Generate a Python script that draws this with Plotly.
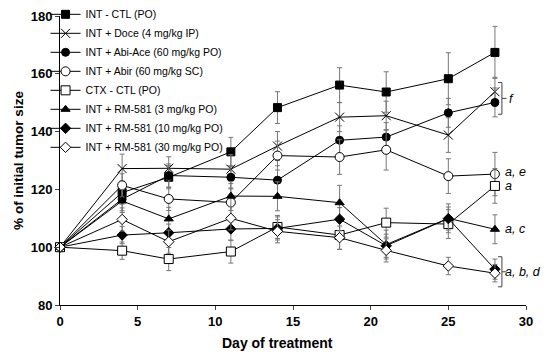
import plotly.graph_objects as go

days = [0, 4, 7, 11, 14, 18, 21, 25, 28]

names = [
    "INT - CTL (PO)",
    "INT + Doce (4 mg/kg IP)",
    "INT + Abi-Ace (60 mg/kg PO)",
    "INT + Abir (60 mg/kg SC)",
    "CTX - CTL (PO)",
    "INT + RM-581 (3 mg/kg PO)",
    "INT + RM-581 (10 mg/kg PO)",
    "INT + RM-581 (30 mg/kg PO)",
]

int_ctl = [100, 118.9, 124.2, 133.0, 148.3, 156.1, 153.7, 158.3, 167.4]
doce = [100, 127.2, 127.3, 127.0, 135.0, 145.0, 145.5, 138.8, 153.8]
abi_ace = [100, 116.6, 124.8, 124.2, 123.2, 137.0, 138.1, 146.5, 150.1]
abir = [100, 121.4, 116.7, 115.5, 131.7, 131.2, 133.7, 124.6, 125.3]
ctx_ctl = [100, 98.8, 95.9, 98.5, 107.0, 104.2, 108.5, 108.0, 121.2]
rm3 = [100, 116.0, 109.8, 117.7, 117.6, 115.4, 100.9, 110.0, 106.2]
rm10 = [100, 104.2, 105.0, 106.3, 106.5, 109.7, 100.5, 109.9, 92.4]
rm30 = [100, 109.6, 101.9, 110.0, 105.5, 103.3, 98.9, 93.5, 91.0]

err_int_ctl = [0, 4, 4, 5, 5.5, 6, 7, 9, 9]
err_doce = [0, 5, 4, 5, 5, 5, 5, 6, 5]
err_abi_ace = [0, 4, 4, 4, 5, 5, 5, 5, 5]
err_abir = [0, 4, 4, 5, 5, 6, 7, 6, 7.5]
err_ctx_ctl = [0, 3, 4, 4, 4, 5, 5, 5, 6]
err_rm3 = [0, 4, 4, 5, 5, 6, 5, 5, 5]
err_rm10 = [0, 3, 3, 4, 4, 4, 4, 4, 3.5]
err_rm30 = [0, 4, 4, 4, 4, 4, 4, 3, 3]

x_title = "Day of treatment"
y_title = "% of initial tumor size"

values = [int_ctl, doce, abi_ace, abir, ctx_ctl, rm3, rm10, rm30]
errors = [err_int_ctl, err_doce, err_abi_ace, err_abir, err_ctx_ctl, err_rm3, err_rm10, err_rm30]

styles = [
    dict(symbol="square", size=8, color="black"),
    dict(symbol="x-thin-open", size=9, color="black"),
    dict(symbol="circle", size=8, color="black"),
    dict(symbol="circle", size=9, color="white"),
    dict(symbol="square", size=9, color="white"),
    dict(symbol="triangle-up", size=8, color="black"),
    dict(symbol="diamond", size=8, color="black"),
    dict(symbol="diamond", size=8, color="white"),
]

fig = go.Figure()
for name, y, e, st in zip(names, values, errors, styles):
    fig.add_trace(go.Scatter(
        x=days, y=y, name=name, mode="lines+markers",
        line=dict(color="black", width=1),
        marker=dict(symbol=st["symbol"], size=st["size"], color=st["color"],
                    line=dict(color="black", width=1)),
        error_y=dict(type="data", array=e, visible=True, color="#777777",
                     thickness=1, width=2.5),
        cliponaxis=False,
    ))

labels = [("f", 151.2), ("a, e", 125.9), ("a", 121.1), ("a, c", 106.2), ("a, b, d", 91.5)]
label_x = 28.75
for txt, yv in labels:
    fig.add_annotation(x=label_x, y=yv, text=txt, showarrow=False, xanchor="left",
                       xshift=(1 if txt == "f" else -3), borderpad=0,
                       font=dict(family="Liberation Sans, Arial", size=12.5, color="black", style="italic"))

# brackets
for y0, y1, xb in [(146.0, 157.0, 28.45), (86.3, 96.7, 28.45)]:
    ym = (y0 + y1) / 2
    fig.add_shape(type="path", xref="x", yref="y",
                  path=f"M {xb-0.25} {y0} L {xb} {y0} L {xb} {y1} L {xb-0.25} {y1} M {xb} {ym} L {xb+0.3} {ym}",
                  line=dict(color="#444444", width=1))

# x-axis title (placed as in the reference, slightly left of centre)
fig.add_annotation(xref="paper", yref="paper", x=0.4665, y=-0.132, text=x_title,
                   showarrow=False, xanchor="center", yanchor="middle",
                   font=dict(family="Liberation Sans, Arial", size=14, color="black", weight="bold"))

fig.update_layout(
    template="none",
    width=542, height=348,
    margin=dict(l=51.5, r=24.3, t=7.7, b=51, pad=0, autoexpand=False),
    paper_bgcolor="white", plot_bgcolor="white",
    font=dict(family="Liberation Sans, Arial", color="black"),
    showlegend=True,
    legend=dict(x=-0.031, y=1.056, xanchor="left", yanchor="top",
                font=dict(size=10.5, family="Liberation Sans, Arial"),
                bgcolor="rgba(0,0,0,0)", borderwidth=0, tracegroupgap=0, itemwidth=30),
)
fig.update_xaxes(range=[0, 30], tickvals=[0, 5, 10, 15, 20, 25, 30], automargin=False,
                 showline=True, linecolor="black", linewidth=1, mirror=False,
                 ticks="outside", ticklen=4, tickcolor="#444444", tickwidth=1,
                 showgrid=False, zeroline=False,
                 tickfont=dict(size=13, weight="bold"))
fig.update_yaxes(range=[80, 180], tickvals=[80, 100, 120, 140, 160, 180], automargin=False,
                 showline=True, linecolor="black", linewidth=1, mirror=False,
                 ticks="outside", ticklen=4, tickcolor="#444444", tickwidth=1,
                 showgrid=False, zeroline=False,
                 tickfont=dict(size=13, weight="bold"),
                 title=dict(text=y_title, font=dict(size=13.5, weight="bold")))

fig.write_html("out.html")
